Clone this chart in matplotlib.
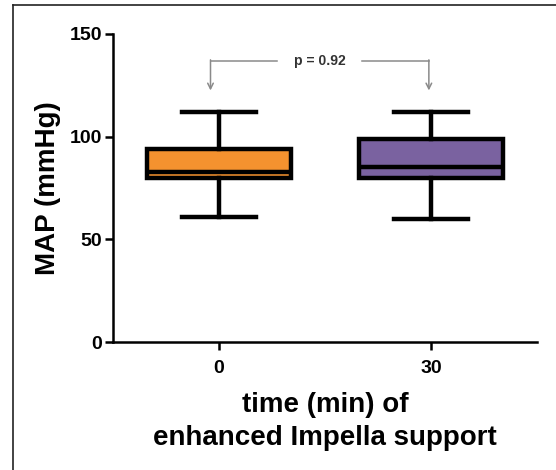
import matplotlib.pyplot as plt
from matplotlib.lines import Line2D

# Box statistics (MAP, mmHg)
groups = ['0', '30']
whis_lo = [61, 60]
q1 = [80, 80]
median = [83, 85]
q3 = [94, 99]
whis_hi = [112, 112]
colors = ['#F4922F', '#7A62A0']
p_text = 'p = 0.92'

plt.rcParams['font.family'] = ['Liberation Sans', 'DejaVu Sans']

fig = plt.figure(figsize=(5.56, 4.70), dpi=100)
ax = fig.add_axes([0.2032, 0.2723, 0.7626, 0.6554])

stats = []
for i, g in enumerate(groups):
    stats.append(dict(label=g, whislo=whis_lo[i], q1=q1[i], med=median[i],
                      q3=q3[i], whishi=whis_hi[i], fliers=[]))

bp = ax.bxp(stats, positions=range(len(groups)), widths=0.68, capwidths=0.35,
            patch_artist=True, showfliers=False,
            boxprops=dict(linewidth=3.2, edgecolor='black'),
            medianprops=dict(color='black', linewidth=3.2),
            whiskerprops=dict(color='black', linewidth=3.2),
            capprops=dict(color='black', linewidth=3.2))
for patch, c in zip(bp['boxes'], colors):
    patch.set_facecolor(c)

ax.set_xlim(-0.5, 1.5)
ax.set_ylim(0, 150)
ax.set_yticks([0, 50, 100, 150])
ax.spines['top'].set_visible(False)
ax.spines['right'].set_visible(False)
ax.spines['left'].set_linewidth(1.8)
ax.spines['bottom'].set_linewidth(1.8)
ax.tick_params(axis='both', length=6, width=1.8, labelsize=14, pad=2)
ax.tick_params(axis='x', pad=7)
for lab in ax.get_xticklabels() + ax.get_yticklabels():
    lab.set_fontweight('bold')

ax.set_ylabel('MAP (mmHg)', fontsize=20, fontweight='bold', labelpad=6)
ax.set_xlabel('time (min) of\nenhanced Impella support', fontsize=20,
              fontweight='bold', labelpad=11, linespacing=1.35)

# p-value bracket with arrows
xl, xr, yb, ya = -0.04, 0.99, 137, 122.5
gc = '#8a8a8a'
ax.plot([xl, 0.275], [yb, yb], color=gc, lw=1.1)
ax.plot([0.673, xr], [yb, yb], color=gc, lw=1.1)
for x in (xl, xr):
    ax.annotate('', xy=(x, ya), xytext=(x, yb + 0.4),
                arrowprops=dict(arrowstyle='->', color=gc, lw=1.1,
                                shrinkA=0, shrinkB=0))
ax.text(0.474, yb, p_text, ha='center', va='center', fontsize=10,
        fontweight='bold', color='#333333')

# frame of the original panel (left and top edges)
fig.add_artist(Line2D([13 / 556, 13 / 556], [0, 1 - 5 / 470],
                      transform=fig.transFigure, color='#222222', lw=1.2))
fig.add_artist(Line2D([13 / 556, 1], [1 - 5 / 470, 1 - 5 / 470],
                      transform=fig.transFigure, color='#222222', lw=1.2))

fig.savefig('out.png', dpi=100)
